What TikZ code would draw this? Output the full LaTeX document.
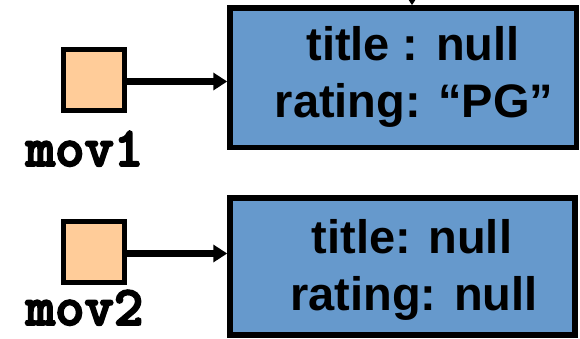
\documentclass[tikz,border=0pt]{standalone}
\usepackage{fontspec}
\setmainfont{Liberation Sans}
\newfontfamily\courbold[FakeBold=3.5]{lmmonolt10-bold.otf}
\usetikzlibrary{arrows.meta}
\definecolor{objblue}{HTML}{6699CC}
\definecolor{refpeach}{HTML}{FFCC99}
\begin{document}
\begin{tikzpicture}[
  refbox/.style={draw=black,line width=5pt,fill=refpeach,minimum width=61pt,minimum height=61pt,inner sep=0pt},
  objbox/.style={draw=black,line width=5.5pt,fill=objblue,inner sep=0pt},
  objtext/.style={anchor=base,inner sep=0pt,font=\fontsize{47}{57}\selectfont\bfseries},
  varlabel/.style={anchor=base,inner sep=0pt,font=\fontsize{56}{64}\selectfont\courbold},
  refarrow/.style={draw=black,line width=6.5pt,-{Triangle[length=14pt,width=17pt]}}]
\useasboundingbox (0pt,0pt) rectangle (580pt,-338pt);
\clip (0pt,0pt) rectangle (580pt,-338pt);
% objects
\node[objbox,minimum width=346.5pt,minimum height=139.5pt] (box1) at (403.25pt,-77.75pt) {};
\node[objbox,minimum width=345pt,minimum height=137pt] (box2) at (402.5pt,-266.5pt) {};
\node[objtext] (t1a) at (413pt,-60pt) {title : null};
\node[objtext] (t1b) at (414pt,-117pt) {rating: “PG”};
\node[objtext] (t2a) at (412pt,-253pt) {title: null};
\node[objtext] (t2b) at (414pt,-310pt) {rating: null};
% references
\node[refbox] (sq1) at (94pt,-80pt) {};
\node[refbox] (sq2) at (94pt,-251.5pt) {};
\node[varlabel] (l1) at (84.5pt,-166pt) {mov1};
\node[varlabel] (l2) at (84.5pt,-325pt) {mov2};
\coordinate (a1) at (sq1.east |- 0pt,-81.5pt);
\coordinate (a2) at (sq2.east |- 0pt,-253.5pt);
\draw[refarrow] (a1) -- (a1 -| box1.west);
\draw[refarrow] (a2) -- (a2 -| box2.west);
\coordinate (topin) at (412pt,20pt);
\draw[refarrow] (topin) -- (topin |- box1.north);
\end{tikzpicture}
\end{document}
